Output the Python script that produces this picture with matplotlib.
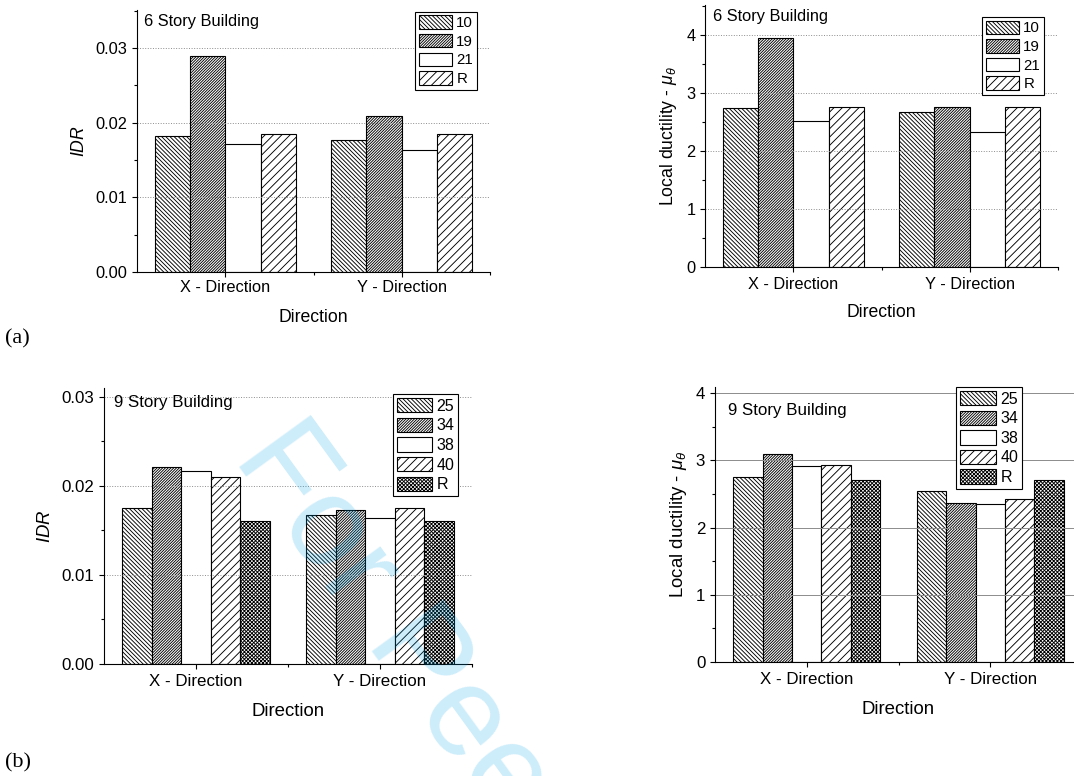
import numpy as np
import matplotlib
matplotlib.use("Agg")
from matplotlib import pyplot as plt
from matplotlib.ticker import FormatStrFormatter, MultipleLocator, FixedLocator

plt.rcParams['font.family'] = 'Liberation Sans'
plt.rcParams['mathtext.fontset'] = 'custom'
plt.rcParams['mathtext.rm'] = 'Liberation Sans'
plt.rcParams['mathtext.it'] = 'Liberation Sans:italic'
plt.rcParams['hatch.linewidth'] = 0.65

# data
directions = ['X - Direction', 'Y - Direction']

labels6 = ['10', '19', '21', 'R']
idr6 = [[0.0182, 0.0177], [0.0289, 0.0209], [0.0172, 0.0164], [0.0185, 0.0185]]
duct6 = [[2.73, 2.67], [3.95, 2.75], [2.51, 2.33], [2.75, 2.75]]

labels9 = ['25', '34', '38', '40', 'R']
idr9 = [[0.0175, 0.0167], [0.0221, 0.0173], [0.0217, 0.0164], [0.0210, 0.0175], [0.0161, 0.0161]]
duct9 = [[2.75, 2.54], [3.10, 2.37], [2.92, 2.35], [2.93, 2.43], [2.71, 2.71]]

# dense back-diagonal, very dense diagonal, plain, sparse diagonal, dense cross
hatches = ['\\' * 8, '/' * 12, '', '/' * 4, 'x' * 9]

W, H = 1074, 776
fig = plt.figure(figsize=(W / 100, H / 100), dpi=100)


def px_axes(left, right, top, bottom):
    return fig.add_axes([left / W, 1 - bottom / H, (right - left) / W, (bottom - top) / H])


def draw(ax, values, labels, ymax, ymajor, fmt, ylabel, title, title_xy, leg_xy,
         fs_tick, fs_label, fs_leg, grid_ls, xpad, xlabelpad):
    n = len(values)
    w = 0.8 / n
    x = np.arange(1, len(directions) + 1)
    for i, vals in enumerate(values):
        ax.bar(x + (i - (n - 1) / 2) * w, vals, w, color='white', edgecolor='black',
               linewidth=0.8, hatch=hatches[i], label=labels[i], zorder=1)
    ax.set_xlim(0.5, 2.5)
    ax.set_ylim(0, ymax)
    ax.set_xticks(x)
    ax.set_xticklabels(directions)
    ax.xaxis.set_minor_locator(FixedLocator([1.5, 2.5]))
    ax.yaxis.set_major_locator(MultipleLocator(ymajor))
    ax.yaxis.set_minor_locator(MultipleLocator(ymajor / 2))
    ax.yaxis.set_major_formatter(FormatStrFormatter(fmt))
    ax.tick_params(which='major', direction='out', length=3.5, width=0.8, labelsize=fs_tick)
    ax.tick_params(axis='x', which='major', pad=xpad)
    ax.tick_params(axis='y', which='major', pad=3.5)
    ax.tick_params(which='minor', direction='out', length=2, width=0.8)
    for s in ['top', 'right']:
        ax.spines[s].set_visible(False)
    for s in ['left', 'bottom']:
        ax.spines[s].set_linewidth(0.8)
    for v in np.arange(ymajor, ymax, ymajor):
        ax.axhline(v, color='#8c8c8c', linestyle=grid_ls, linewidth=0.7, zorder=2)
    ax.set_xlabel('Direction', fontsize=fs_label, labelpad=xlabelpad)
    ax.set_ylabel(ylabel, fontsize=fs_label, labelpad=5)
    ax.text(title_xy[0], title_xy[1], title, transform=ax.transAxes, fontsize=fs_tick,
            ha='left', va='center')
    leg = ax.legend(loc='upper right', bbox_to_anchor=leg_xy, borderaxespad=0,
                    fancybox=False, edgecolor='black', framealpha=1, fontsize=fs_leg,
                    handlelength=2.2, handleheight=1.0, labelspacing=0.25,
                    handletextpad=0.3, borderpad=0.25)
    leg.get_frame().set_linewidth(0.8)
    leg.set_zorder(5)


ax1 = px_axes(137, 490, 10, 272)
draw(ax1, idr6, labels6, 0.0351, 0.01, '%.2f', '$\\mathit{IDR}$', '6 Story Building',
     (0.02, 0.955), (0.963, 0.994), 11.8, 12.7, 10.8, ':', 2.2, 10)

ax2 = px_axes(705, 1058, 5, 267)
draw(ax2, duct6, labels6, 4.51, 1, '%d', 'Local ductility - $\\mu_\\theta$', '6 Story Building',
     (0.023, 0.955), (0.960, 0.955), 11.8, 12.7, 10.8, ':', 3.6, 9)

ax3 = px_axes(104, 472, 388, 664)
draw(ax3, idr9, labels9, 0.0310, 0.01, '%.2f', '$\\mathit{IDR}$', '9 Story Building',
     (0.027, 0.947), (0.963, 0.978), 12.2, 13.4, 11.5, ':', 3.6, 10.5)

ax4 = px_axes(715, 1082, 387, 662)
draw(ax4, duct9, labels9, 4.09, 1, '%d', 'Local ductility - $\\mu_\\theta$', '9 Story Building',
     (0.035, 0.916), (0.837, 1.0), 12.2, 13.4, 11.5, '-', 3.6, 10)

fig.text(5 / W, 1 - 339 / H, '(a)', family='Liberation Serif', fontsize=16, va='center', ha='left')
fig.text(5 / W, 1 - 763 / H, '(b)', family='Liberation Serif', fontsize=16, va='center', ha='left')

# watermark
fig.text(232 / W, 1 - 458 / H, 'For Peer Review', rotation=-54, rotation_mode='anchor',
         ha='left', va='baseline', fontsize=92, color='#00a4ec', alpha=0.2, zorder=10)

fig.savefig('out.png', dpi=100)
